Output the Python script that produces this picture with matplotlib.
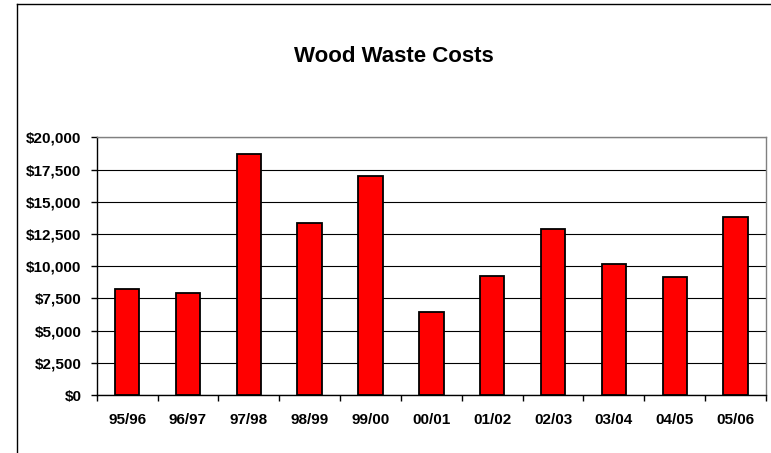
import matplotlib
matplotlib.use("Agg")
import matplotlib.pyplot as plt
from matplotlib.lines import Line2D
from matplotlib.ticker import FuncFormatter, FixedLocator

categories = ["95/96", "96/97", "97/98", "98/99", "99/00", "00/01",
              "01/02", "02/03", "03/04", "04/05", "05/06"]
costs = [8200, 7950, 18700, 13350, 17000, 6450, 9250, 12850, 10150, 9150, 13800]
y_ticks = [0, 2500, 5000, 7500, 10000, 12500, 15000, 17500, 20000]
title = "Wood Waste Costs"

plt.rcParams['font.family'] = ['Liberation Sans', 'DejaVu Sans']
W, H = 771, 453
fig = plt.figure(figsize=(W / 100, H / 100), dpi=100)
fig.patch.set_facecolor("white")

# outer chart frame (left and top visible)
fx = 16.5 / W
fy = 1 - 3.5 / H
fig.add_artist(Line2D([fx, fx], [0, fy], transform=fig.transFigure, color="black", lw=1.0))
fig.add_artist(Line2D([fx, 1.0], [fy, fy], transform=fig.transFigure, color="black", lw=1.0))

left, right, top, bottom = 96.7, 766.0, 137.3, 395.0
ax = fig.add_axes([left / W, (H - bottom) / H, (right - left) / W, (bottom - top) / H])

x = list(range(len(categories)))
ax.bar(x, costs, width=0.4, color="#ff0000", edgecolor="black", linewidth=1.3, zorder=3)

ax.set_xlim(-0.5, len(categories) - 0.5)
ax.set_ylim(0, 20000)
ax.set_yticks(y_ticks)
ax.yaxis.set_major_formatter(FuncFormatter(lambda v, p: "${:,.0f}".format(v)))
ax.set_xticks(x)
ax.set_xticklabels(categories)
ax.xaxis.set_minor_locator(FixedLocator([i - 0.5 for i in range(len(categories) + 1)]))

for lab in ax.get_xticklabels() + ax.get_yticklabels():
    lab.set_fontweight("bold")
    lab.set_fontsize(11)

ax.tick_params(axis="x", which="major", length=0, pad=13)
ax.tick_params(axis="x", which="minor", length=4, width=1, direction="out", color="black")
ax.tick_params(axis="y", which="major", length=4, width=1, direction="out", color="black", pad=7)

ax.yaxis.grid(True, color="black", linewidth=0.8, zorder=0)
ax.set_axisbelow(True)
for s in ["top", "right"]:
    ax.spines[s].set_color("#808080")
    ax.spines[s].set_linewidth(1.0)
for s in ["left", "bottom"]:
    ax.spines[s].set_color("black")
    ax.spines[s].set_linewidth(1.0)

fig.text(394 / W, 1 - 62.3 / H, title, ha="center", va="baseline",
         fontsize=16, fontweight="bold")

fig.savefig("out.png", dpi=100, facecolor="white")
